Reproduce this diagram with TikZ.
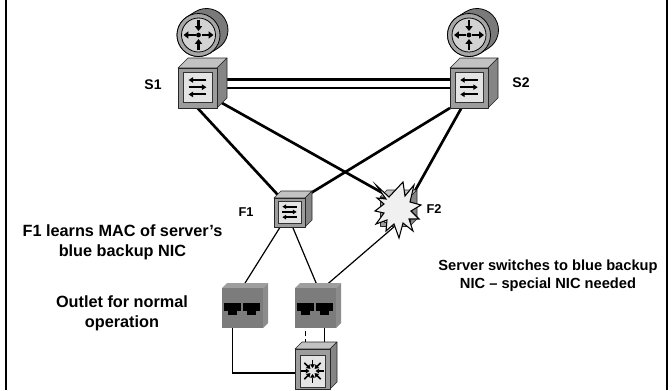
\documentclass[tikz,border=0pt]{standalone}
\usepackage{fontspec}
\setmainfont{Liberation Sans}
\usetikzlibrary{arrows.meta,backgrounds}
\definecolor{routerback}{HTML}{7A7A7A}
\definecolor{routerring}{HTML}{A6A6A6}
\definecolor{routerdisc}{HTML}{D2D2D2}
\definecolor{cubefront}{HTML}{9C9C9C}
\definecolor{cubetop}{HTML}{C2C2C2}
\definecolor{cubeside}{HTML}{858585}
\definecolor{panelfill}{HTML}{E4E4E4}
\definecolor{platefront}{HTML}{7C7C7C}
\definecolor{platetop}{HTML}{9E9E9E}
\definecolor{plateside}{HTML}{8C8C8C}
\definecolor{blastfill}{HTML}{F0F0F0}
\begin{document}
\begin{tikzpicture}[x=0.75pt,y=-0.75pt,
  link/.style={line width=2pt},
  cable/.style={line width=0.9pt},
  cubeline/.style={draw=black!85,line width=0.5pt,line join=round},
  rarrow/.style={line width=1.9pt,-{Triangle[length=3.6pt,width=5.2pt]}},
  lbl/.style={font=\fontsize{10.5}{12}\selectfont\bfseries,inner sep=0pt},
  smalllbl/.style={font=\fontsize{9.6}{11}\selectfont\bfseries,inner sep=0pt},
  note/.style={font=\fontsize{12.2}{15}\selectfont\bfseries,align=center,inner sep=0pt},
  sidenote/.style={font=\fontsize{11}{13.5}\selectfont\bfseries,align=center,inner sep=0pt},
  % router: cylinder seen from the front, origin at the face centre
  pics/router/.style={code={
    \filldraw[line width=0.6pt,fill=routerback]
      (58:21.5) -- ([shift={(8,-5)}]58:21.5)
      arc[start angle=58,end angle=-122,radius=21.5]
      -- (-122:21.5) arc[start angle=-122,end angle=-302,radius=21.5] -- cycle;
    \filldraw[line width=0.6pt,fill=routerring] (0,0) circle[radius=21.5];
    \filldraw[line width=0.6pt,fill=routerdisc] (0,0) circle[radius=17];
    \fill (0,0) circle[radius=2.4];
    \draw[rarrow] (0,-15) -- (0,-4);
    \draw[rarrow] (0,15) -- (0,4);
    \draw[rarrow] (-3,0) -- (-15,0);
    \draw[rarrow] (3,0) -- (15,0);
    \coordinate (-c) at (0,0);
  }},
  % box with top and right faces; origin at front top-left; w, h, depth
  pics/cube/.style n args={3}{code={
    \filldraw[cubeline,fill=cubetop] (0,0) -- (#3,-#3) -- ({#1+#3},-#3) -- (#1,0) -- cycle;
    \filldraw[cubeline,fill=cubeside] (#1,0) -- ({#1+#3},-#3) -- ({#1+#3},{#2-#3}) -- (#1,#2) -- cycle;
    \filldraw[cubeline,fill=cubefront] (0,0) rectangle (#1,#2);
    \coordinate (-c) at ({#1/2},{#2/2});
    \coordinate (-s) at ({#1/2},#2);
    \coordinate (-s1) at ({0.2*#1},#2);
    \coordinate (-s2) at ({0.6*#1},#2);
    \coordinate (-bq) at ({0.3*#1},#2);
    \coordinate (-sw) at (0,#2);
    \coordinate (-w) at (0,{0.6*#2});
    \coordinate (-e1) at (#1,{0.28*#2});
    \coordinate (-e2) at (#1,{0.5*#2});
    \coordinate (-w1) at (0,{0.28*#2});
    \coordinate (-w2) at (0,{0.5*#2});
    \coordinate (-tl) at (#3,-#3);
    \coordinate (-tlm) at ({#3/2},{-#3/2});
    \coordinate (-trm) at ({#1+#3/2},{-#3/2});
    \coordinate (-sbe) at ({#1+#3/2},{#2-#3/2});
  }},
  % layer-2 switch front panel with three arrows
  pics/swpanel/.style n args={2}{code={
    \filldraw[draw=black!80,line width=0.6pt,fill=panelfill]
      ({0.13*#1},{0.1*#2}) rectangle ({0.87*#1},{0.86*#2});
    \begin{scope}[line width={0.04*#1 pt}]
      \draw[-{Triangle[length=0pt 2.2,width=0pt 2.6]}] ({0.73*#1},{0.3*#2}) -- ({0.27*#1},{0.3*#2});
      \draw[-{Triangle[length=0pt 2.2,width=0pt 2.6]}] ({0.27*#1},{0.48*#2}) -- ({0.73*#1},{0.48*#2});
      \draw[-{Triangle[length=0pt 2.2,width=0pt 2.6]}] ({0.73*#1},{0.66*#2}) -- ({0.27*#1},{0.66*#2});
    \end{scope}
  }},
  % multilayer switch front panel with eight inward arrows
  pics/mlpanel/.style={code={
    \filldraw[draw=black!80,line width=0.6pt,fill=panelfill] (5,6) rectangle (30,38);
    \begin{scope}[shift={(17.5,22)}]
      \foreach \a in {0,45,...,315}
        \draw[line width=1.3pt,-{Triangle[length=2.8pt,width=3.6pt]}] (\a:11.5) -- (\a:3);
    \end{scope}
  }},
  % wall outlet with two RJ45 jacks
  pics/outlet/.style={code={
    \fill[platetop] (0,0) -- (5,-5) -- (46,-5) -- (41,0) -- cycle;
    \fill[plateside] (41,0) -- (46,-5) -- (46,35) -- (41,40) -- cycle;
    \fill[platefront] (0,0) rectangle (41,40);
    \foreach \jx/\jn in {2/1,21/2} {
      \fill (\jx,15) rectangle ++(17,8);
      \fill ({\jx+4},23) rectangle ++(9,4);
      \coordinate (-j\jn) at ({\jx+8.5},15);
      \coordinate (-b\jn) at ({\jx+8.5},27);
    }
  }},
]
\useasboundingbox (0,0) rectangle (672,390);

% side rules
\draw[line width=1.5pt] (6,0) -- (6,390);
\draw[line width=1.5pt] (667,0) -- (667,390);

% routers
\pic (r1) at (198.5,35) {router};
\pic (r2) at (469,35) {router};

% core switches
\pic (s1) at (178,68) {cube={39}{40}{10}};
\pic at (178,68) {swpanel={39}{40}};
\pic (s2) at (450,68) {cube={38}{40}{10}};
\pic at (450,68) {swpanel={38}{40}};

% access switches
\pic (f1) at (274,198) {cube={31}{29}{7}};
\pic at (274,198) {swpanel={31}{29}};
\pic (f2) at (380,197) {cube={30}{29}{7}};
\pic at (380,197) {swpanel={30}{29}};

% failure burst over F2
\begin{scope}[shift={(397,209)}]
  \coordinate (blast) at (0,0);
  \filldraw[fill=blastfill,line width=0.8pt,line join=miter,miter limit=20]
    (-21,-24) -- (-8,-12) -- (6,-27) -- (8,-13) -- (17,-24) -- (13,-7)
    -- (24,-4) -- (14,2) -- (22,10) -- (12,10) -- (16,22) -- (6,14)
    -- (2,29) -- (-3,15) -- (-11,22) -- (-10,11) -- (-21,15) -- (-13,4)
    -- (-22,2) -- (-13,-5) -- (-20,-11) -- (-11,-10) -- cycle;
\end{scope}

% outlets and server switch
\pic (o1) at (222,288) {outlet};
\pic (o2) at (295,288) {outlet};
\pic (mls) at (295,349) {cube={35}{40}{7}};
\pic at (295,349) {mlpanel};

% labels
\node[lbl] (s1lab) at (153,85) {S1};
\node[lbl] (s2lab) at (521,83) {S2};
\node[smalllbl] (f1lab) at (246,212) {F1};
\node[smalllbl] (f2lab) at (434,209) {F2};

\node[note] (t1) at (122.5,242) {F1 learns MAC of server’s\\blue backup NIC};
\node[note] (t2) at (122,313) {Outlet for normal\\operation};
\node[sidenote] (t3) at (548,276) {Server switches to blue backup\\NIC – special NIC needed};

% connectors
\begin{scope}[on background layer]
  \draw[link] (s1-e1) -- (s2-w1);
  \draw[link] (s1-e2) -- (s2-w2);
  \draw[link] (s1-s) -- (f1-tlm);
  \draw[link] (s1-sbe) -- (f2-tlm);
  \draw[link] (s2-sw) -- (f1-trm);
  \draw[link] (s2-bq) -- (f2-trm);
  \draw[cable] (f1-s1) -- (o1-j1);
  \draw[cable] (f1-s2) -- (o2-j2);
  \draw[cable] (f2-s) -- (o2-j1);
  \draw[cable] (o1-b1) |- (mls-w);
  \draw[cable,dash pattern=on 3.5pt off 2.5pt] (o2-b1) -- (o2-b1 |- mls-tl);
  \draw[cable] (o2-b2) -- (o2-b2 |- mls-tl);
\end{scope}
\end{tikzpicture}
\end{document}
